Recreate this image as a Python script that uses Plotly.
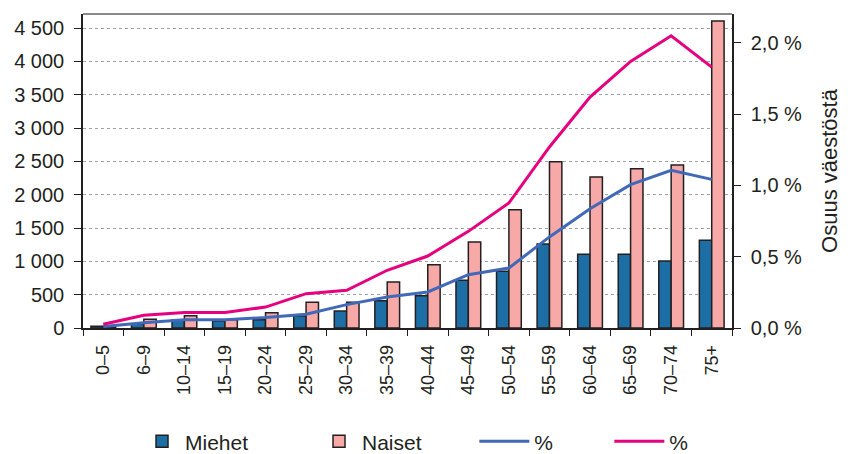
import plotly.graph_objects as go

categories = ["0–5", "6–9", "10–14", "15–19", "20–24", "25–29", "30–34", "35–39",
              "40–44", "45–49", "50–54", "55–59", "60–64", "65–69", "70–74", "75+"]
miehet = [25, 65, 115, 105, 125, 180, 255, 410, 485, 715, 850, 1260, 1105, 1105, 1005, 1315]
naiset = [20, 130, 185, 125, 230, 385, 385, 690, 950, 1290, 1775, 2495, 2265, 2390, 2445, 4605]
miehet_pct = [0.01, 0.037, 0.058, 0.058, 0.073, 0.096, 0.164, 0.218, 0.253, 0.374,
              0.421, 0.639, 0.837, 1.006, 1.106, 1.043]
naiset_pct = [0.026, 0.089, 0.108, 0.108, 0.147, 0.241, 0.264, 0.405, 0.505, 0.678,
              0.877, 1.27, 1.62, 1.87, 2.05, 1.83]

left_ticks = [0, 500, 1000, 1500, 2000, 2500, 3000, 3500, 4000, 4500]
left_ticktext = ["0", "500", "1 000", "1 500", "2 000", "2 500", "3 000", "3 500", "4 000", "4 500"]
right_ticks = [0, 0.5, 1.0, 1.5, 2.0]
right_ticktext = ["0,0 %", "0,5 %", "1,0 %", "1,5 %", "2,0 %"]

FONT = "Liberation Sans, Arial, sans-serif"
TXT = "#231f20"

fig = go.Figure()
fig.add_trace(go.Bar(x=categories, y=miehet, name="Miehet", legend="legend",
                     marker=dict(color="#1c6ea4", line=dict(color="#231f20", width=1.5))))
fig.add_trace(go.Bar(x=categories, y=naiset, name="Naiset", legend="legend",
                     marker=dict(color="#f7a9a8", line=dict(color="#231f20", width=1.5))))
fig.add_trace(go.Scatter(x=categories, y=miehet_pct, name="%", mode="lines", yaxis="y2",
                         legend="legend2", line=dict(color="#4169b8", width=3)))
fig.add_trace(go.Scatter(x=categories, y=naiset_pct, name="%", mode="lines", yaxis="y2",
                         legend="legend2", line=dict(color="#e6007e", width=3)))

# page body has an 8px margin, so the figure is sized to the visible area
fig.update_layout(
    width=840, height=446,
    margin=dict(l=75, r=116, t=6, b=126, autoexpand=False),
    paper_bgcolor="white", plot_bgcolor="white",
    font=dict(family=FONT, color=TXT, size=20),
    barmode="group", bargap=0.39, bargroupgap=0,
    showlegend=True,
    legend=dict(orientation="h", x=0.0863, xanchor="left", y=-0.362, yanchor="middle",
                font=dict(size=21, color=TXT), entrywidth=126, itemwidth=36,
                bgcolor="rgba(0,0,0,0)"),
    legend2=dict(orientation="h", x=0.603, xanchor="left", y=-0.362, yanchor="middle",
                 font=dict(size=21, color=TXT), entrywidth=70, itemwidth=50,
                 bgcolor="rgba(0,0,0,0)"),
    xaxis=dict(type="category", tickson="boundaries", ticks="outside", ticklen=6,
               tickcolor="#231f20", tickangle=-90, showline=True, linecolor="#231f20",
               linewidth=1.5, tickfont=dict(size=18, color=TXT), showgrid=False,
               automargin=False, ticklabelstandoff=8),
    yaxis=dict(range=[0, 4710], tickvals=left_ticks, ticktext=left_ticktext,
               ticks="outside", ticklen=7, tickcolor="#231f20", showline=True,
               linecolor="#231f20", linewidth=1.5, showgrid=True, gridcolor="#a0a0a0",
               griddash="dot", gridwidth=1, zeroline=False, tickfont=dict(size=20, color=TXT),
               automargin=False, ticklabelstandoff=6),
    yaxis2=dict(range=[0, 2.203], tickvals=right_ticks, ticktext=right_ticktext,
                overlaying="y", side="right", ticks="outside", ticklen=7, tickcolor="#231f20",
                showline=True, linecolor="#231f20", linewidth=1.5, showgrid=False,
                zeroline=False, tickfont=dict(size=20, color=TXT), automargin=False,
                ticklabelstandoff=6,
                title=dict(text="Osuus väestöstä", font=dict(size=22, color=TXT), standoff=20)),
    shapes=[dict(type="line", xref="paper", yref="paper", x0=0, x1=1, y0=1, y1=1,
                 line=dict(color="#8a8a8a", width=2))],
)

fig.write_html("out.html")
